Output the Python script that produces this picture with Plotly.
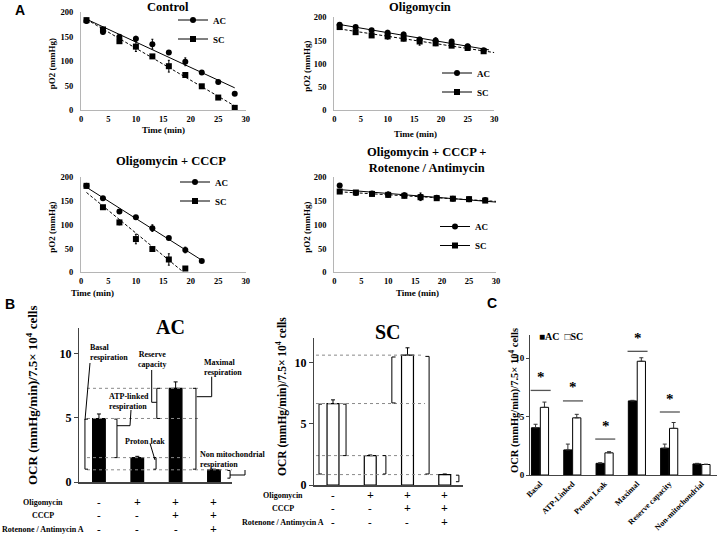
import numpy as np
import plotly.graph_objects as go

W, H = 718, 541
SERIF = "Liberation Serif, Times New Roman, serif"
SANS = "Liberation Sans, Arial, sans-serif"

# ---------------- Panel A data ----------------
time = [1, 4, 7, 10, 13, 16, 19, 22, 25, 28]
ctrl_ac = [182, 160, 150, 146, 135, 118, 99, 77, 58, 34]
ctrl_ac_err = [4, 4, 4, 5, 10, 3, 8, 3, 3, 3]
ctrl_sc = [184, 165, 141, 130, 110, 90, 72, 49, 26, 5]
ctrl_sc_err = [4, 4, 4, 10, 3, 12, 4, 3, 3, 3]

oligo_ac = [184, 179, 172, 167, 163, 152, 150, 148, 138, 129]
oligo_ac_err = [3, 3, 3, 5, 5, 5, 6, 3, 4, 4]
oligo_sc = [179, 168, 161, 159, 154, 148, 144, 139, 134, 127]
oligo_sc_err = [3, 3, 3, 6, 5, 8, 5, 3, 4, 3]

cccp_time_ac = [1, 4, 7, 10, 13, 16, 19, 22]
cccp_ac = [182, 156, 128, 116, 93, 72, 47, 24]
cccp_ac_err = [3, 3, 3, 3, 7, 3, 6, 3]
cccp_time_sc = [1, 4, 7, 10, 13, 16, 19]
cccp_sc = [182, 137, 105, 70, 49, 27, 8]
cccp_sc_err = [3, 3, 5, 10, 3, 12, 3]

rot_ac = [183, 167, 166, 164, 162, 159, 157, 155, 154, 152]
rot_ac_err = [2, 2, 3, 5, 5, 8, 3, 3, 3, 2]
rot_sc = [170, 168, 165, 163, 161, 158, 156, 155, 154, 151]
rot_sc_err = [2, 2, 3, 4, 4, 6, 3, 3, 3, 2]

a_xticks = [0, 5, 10, 15, 20, 25, 30]
a_yticks = [0, 50, 100, 150, 200]

# ---------------- Panel B data ----------------
b_rows = ["Oligomycin", "CCCP", "Rotenone / Antimycin A"]
b_signs = [["-", "+", "+", "+"],
           ["-", "-", "+", "+"],
           ["-", "-", "-", "+"]]
ac_ocr = [4.95, 1.9, 7.3, 0.95]
ac_ocr_err = [0.35, 0.1, 0.5, 0.05]
sc_ocr = [6.65, 2.4, 10.6, 0.85]
sc_ocr_err = [0.3, 0.05, 0.6, 0.05]

# ---------------- Panel C data ----------------
c_cats = ["Basal", "ATP-Linked", "Proton Leak", "Maximal", "Reserve capacity", "Non-mitochondrial"]
c_ac = [4.05, 2.15, 1.0, 6.35, 2.3, 0.95]
c_ac_err = [0.3, 0.5, 0.05, 0.05, 0.35, 0.05]
c_sc = [5.8, 4.9, 1.9, 9.75, 4.0, 0.9]
c_sc_err = [0.45, 0.3, 0.1, 0.3, 0.5, 0.03]
c_sig_y = [7.25, 6.35, 3.08, 10.6, 5.4]

OCR_LABEL = "OCR (mmHg/min)/7.5\u00d7 10<sup>4</sup> cells"


def px(p):
    return p / W


def py(p):
    return 1 - p / H


fig = go.Figure()
ann = []
shapes = []
layout = {}


def bold(size, family=SERIF, color="black"):
    return dict(family=family, size=size, color=color, weight="bold")


def note(text, x, y, size, family=SERIF, xanchor="center", yanchor="middle", **kw):
    d = dict(text=text, x=px(x), y=py(y), xref="paper", yref="paper", showarrow=False,
             xanchor=xanchor, yanchor=yanchor, font=bold(size, family))
    d.update(kw)
    ann.append(d)


# ---------------- Panel A ----------------
A_PANELS = [
    ("", "legend", 81, 245.7, 110.3, 12.3, "Control", (168, 7), 52, (163, 130), (173, 5.5),
     [(time, ctrl_ac, ctrl_ac_err, "circle", "solid", "AC", 1, 28),
      (time, ctrl_sc, ctrl_sc_err, "square", "3px,2px", "SC", 1, 28)]),
    ("2", "legend2", 334.3, 494.3, 110.3, 17.3, "Oligomycin", (420, 7), 307, (415, 134), (437, 58.5),
     [(time, oligo_ac, oligo_ac_err, "circle", "solid", "AC", 1, 29),
      (time, oligo_sc, oligo_sc_err, "square", "3px,2px", "SC", 1, 30)]),
    ("3", "legend3", 81, 245.7, 272.3, 177.3, "Oligomycin + CCCP", (171, 161), 52, (93, 293), (175, 167.5),
     [(cccp_time_ac, cccp_ac, cccp_ac_err, "circle", "solid", "AC", 1, 22),
      (cccp_time_sc, cccp_sc, cccp_sc_err, "square", "3px,2px", "SC", 1, None)]),
    ("4", "legend4", 334.3, 496, 272.3, 177.3, "Oligomycin + CCCP +<br>Rotenone / Antimycin", (426, 160), 307,
     (417, 293), (435, 212),
     [(time, rot_ac, rot_ac_err, "circle", "solid", "AC", 1, 30),
      (time, rot_sc, rot_sc_err, "square", "3px,2px", "SC", 1, 30)]),
]

for (sfx, leg, x0, x1, yb, yt, title, tpos, ylx, xlpos, lpos, series) in A_PANELS:
    xa, ya = "x" + sfx, "y" + sfx
    layout["xaxis" + sfx] = dict(
        domain=[px(x0), px(x1)], range=[0, 30], tickvals=a_xticks, anchor=ya,
        showline=True, linecolor="#b5b5b5", linewidth=1, showgrid=False, zeroline=False,
        ticks="", tickfont=bold(8.5))
    layout["yaxis" + sfx] = dict(
        domain=[py(yb), py(yt)], range=[0, 200], tickvals=a_yticks, anchor=xa,
        showline=True, linecolor="#b5b5b5", linewidth=1, showgrid=False, zeroline=False,
        ticks="outside", ticklen=5, tickcolor="rgba(0,0,0,0)", tickfont=bold(8.5))
    t = "<br>".join(f"<b>{s}</b>" for s in title.split("<br>"))
    note(t, tpos[0], tpos[1], 12.5, align="center")
    note("<b>pO2 (mmHg)</b>", ylx, (yb + yt) / 2 + 3, 9, textangle=-90)
    note("<b>Time (min)</b>", xlpos[0], xlpos[1], 9)
    layout[leg] = dict(x=px(lpos[0]), y=py(lpos[1]), xanchor="left", yanchor="top",
                       bgcolor="rgba(0,0,0,0)", font=bold(9), itemwidth=30, tracegroupgap=0)
    for (xs, ys, es, sym, dash, name, fx0, fx1) in series:
        c = np.polyfit(xs, ys, 1)
        if fx1 is None:
            fx1 = -c[1] / c[0]
        lx = [fx0, fx1]
        fig.add_trace(go.Scatter(x=lx, y=np.polyval(c, lx), mode="lines", xaxis=xa, yaxis=ya,
                                 line=dict(color="black", width=1, dash=dash), showlegend=False,
                                 hoverinfo="skip"))
        fig.add_trace(go.Scatter(x=xs, y=ys, mode="markers", xaxis=xa, yaxis=ya, name=name,
                                 marker=dict(symbol=sym, size=6, color="black"),
                                 error_y=dict(type="data", array=es, color="black", thickness=1, width=1),
                                 showlegend=False, cliponaxis=False))
        fig.add_trace(go.Scatter(x=[None], y=[None], mode="lines+markers", xaxis=xa, yaxis=ya,
                                 name=f"<b>{name}</b>", legend=leg,
                                 marker=dict(symbol=sym, size=6, color="black"),
                                 line=dict(color="black", width=1)))

note("<b>A</b>", 20, 10, 14, SANS)
note("<b>B</b>", 10, 304, 14, SANS)
note("<b>C</b>", 492, 303, 14, SANS)


# ---------------- Panel B ----------------
def make_map(x0p, x1p, xr, ybp, ytp, yr):
    def fx(v):
        return x0p + (v - xr[0]) / (xr[1] - xr[0]) * (x1p - x0p)

    def fy(v):
        return ybp - (v - yr[0]) / (yr[1] - yr[0]) * (ybp - ytp)
    return fx, fy


B_PANELS = [
    ("5", 79, 232, [-0.52, 3.47], 482, 328, ac_ocr, ac_ocr_err, "black", 0.33, "AC", (170, 327), 20,
     (32, 395), 13, 43, (502, 515, 529)),
    ("6", 314, 463, [-0.51, 3.49], 485, 338, sc_ocr, sc_ocr_err, "white", 0.32, "SC", (388, 332), 20,
     (281, 397), 11.5, 283, (495, 508, 522)),
]
bmaps = {}
for (sfx, x0, x1, xr, yb, yt, vals, errs, col, bw, title, tpos, tsize, ylpos, ylsize, rowx, rowys) in B_PANELS:
    xa, ya = "x" + sfx, "y" + sfx
    layout["xaxis" + sfx] = dict(domain=[px(x0), px(x1)], range=xr, anchor=ya, showticklabels=False,
                                 showline=True, linecolor="#444", linewidth=1.6, ticks="",
                                 showgrid=False, zeroline=False)
    layout["yaxis" + sfx] = dict(domain=[py(yb), py(yt)], range=[0, 12], tickvals=[0, 5, 10], anchor=xa,
                                 showline=True, linecolor="#444", linewidth=1.2, ticks="outside",
                                 ticklen=4, tickcolor="#444", tickfont=bold(12), showgrid=False,
                                 zeroline=False)
    fig.add_trace(go.Bar(x=list(range(len(vals))), y=vals, width=bw, xaxis=xa, yaxis=ya, showlegend=False,
                         marker=dict(color=col, line=dict(color="black", width=1.2)),
                         error_y=dict(type="data", symmetric=False, array=errs, arrayminus=[0] * len(errs),
                                      color="black", thickness=1, width=2)))
    fx, fy = make_map(x0, x1, xr, yb, yt, [0, 12])
    bmaps[sfx] = (fx, fy)
    note(f"<b>{title}</b>", tpos[0], tpos[1], tsize)
    note(f"<b>{OCR_LABEL}</b>", ylpos[0], ylpos[1], ylsize, textangle=-90)
    for r, lab in enumerate(b_rows):
        note(f"<b>{lab}</b>", rowx, rowys[r], 8)
        for i, s in enumerate(b_signs[r]):
            note(f"<b>{s}</b>", fx(i), rowys[r], 12 if s == "+" else 11)


def bracket(fx, fy, xv, arm, y1, y2):
    shapes.append(dict(type="path", xref="paper", yref="paper",
                       path=(f"M {px(fx(xv + arm))},{py(fy(y1))} L {px(fx(xv))},{py(fy(y1))} "
                             f"L {px(fx(xv))},{py(fy(y2))} L {px(fx(xv + arm))},{py(fy(y2))}"),
                       line=dict(color="black", width=1)))


def dashed(fy, yv, x0p, x1p):
    shapes.append(dict(type="line", xref="paper", yref="paper", x0=px(x0p), x1=px(x1p),
                       y0=py(fy(yv)), y1=py(fy(yv)), line=dict(color="#8a8a8a", width=1, dash="dot")))


def poly(points):
    d = "M " + " L ".join(f"{px(a)},{py(b)}" for a, b in points)
    shapes.append(dict(type="path", xref="paper", yref="paper", path=d, line=dict(color="black", width=1)))


# AC decorations
fx, fy = bmaps["5"]
dashed(fy, ac_ocr[2], 87, 198)
dashed(fy, ac_ocr[0], 87, 198)
dashed(fy, ac_ocr[1], 87, 190)
dashed(fy, ac_ocr[3], 87, 232)
bracket(fx, fy, -0.365, 0.08, ac_ocr[0] - 0.05, ac_ocr[3] + 0.05)
bracket(fx, fy, 0.47, -0.07, ac_ocr[0] - 0.05, ac_ocr[1])
bracket(fx, fy, 1.49, -0.07, ac_ocr[1], ac_ocr[3] + 0.05)
bracket(fx, fy, 1.51, 0.08, ac_ocr[2], ac_ocr[0])
bracket(fx, fy, 2.53, -0.08, ac_ocr[2], ac_ocr[3] + 0.05)
bracket(fx, fy, 3.42, -0.07, ac_ocr[3] - 0.05, 0.3)
poly([(90, 363), (85, 420)])
poly([(117, 425.7), (130, 425.7), (131, 410)])
poly([(151.7, 370), (151.7, 402.3), (156.7, 402.3)])
poly([(196.7, 396.7), (211.7, 396.7), (211.7, 376.7)])
poly([(150, 443.3), (155, 460)])
poly([(230, 475), (245, 475), (245, 470)])
for text, xp, yp, xanc, al in [
    ("Basal<br>respiration", 88, 352.5, "left", "left"),
    ("Reserve<br>capacity", 152, 359.5, "center", "center"),
    ("Maximal<br>respiration", 202, 367.5, "left", "left"),
    ("ATP-linked<br>respiration", 107, 401, "left", "left"),
    ("Proton leak", 145, 441, "center", "center"),
    ("Non mitochondrial<br>respiration", 198, 459, "left", "left"),
]:
    t = "<br>".join(f"<b>{s}</b>" for s in text.split("<br>"))
    note(t, xp, yp, 8, xanchor=xanc, align=al)

# SC decorations
fx, fy = bmaps["6"]
dashed(fy, sc_ocr[2], 316, 422)
dashed(fy, sc_ocr[0], 316, 425)
dashed(fy, sc_ocr[1], 316, 413)
dashed(fy, sc_ocr[3], 316, 438)
bracket(fx, fy, -0.376, 0.08, sc_ocr[0] - 0.05, sc_ocr[3] + 0.05)
bracket(fx, fy, 0.35, -0.08, sc_ocr[0] - 0.05, sc_ocr[1])
bracket(fx, fy, 1.42, -0.08, sc_ocr[1], sc_ocr[3] + 0.05)
bracket(fx, fy, 1.58, 0.1, sc_ocr[2] - 0.15, sc_ocr[0] + 0.05)
bracket(fx, fy, 2.58, -0.1, sc_ocr[2] - 0.1, sc_ocr[3] + 0.05)
bracket(fx, fy, 3.38, -0.08, sc_ocr[3] - 0.05, 0.27)

# ---------------- Panel C ----------------
layout["xaxis7"] = dict(domain=[px(530), px(717)], type="category", categoryarray=c_cats,
                        range=[-0.31, 5.48], anchor="y7", tickangle=-45, tickfont=bold(8),
                        showline=True, linecolor="#444", linewidth=1.2, ticks="", showgrid=False,
                        zeroline=False)
layout["yaxis7"] = dict(domain=[py(475), py(335)], range=[0, 12], tickvals=[0, 5, 10], anchor="x7",
                        showline=True, linecolor="#444", linewidth=1, ticks="outside", ticklen=3,
                        tickcolor="#444", tickfont=bold(9), showgrid=False, zeroline=False)
fig.add_trace(go.Bar(x=c_cats, y=c_ac, xaxis="x7", yaxis="y7", width=0.255, offset=-0.265, name="AC",
                     showlegend=False, marker=dict(color="black", line=dict(color="black", width=1)),
                     error_y=dict(type="data", symmetric=False, array=c_ac_err, arrayminus=[0] * 6,
                                  color="#333", thickness=1, width=2)))
fig.add_trace(go.Bar(x=c_cats, y=c_sc, xaxis="x7", yaxis="y7", width=0.255, offset=0.01, name="SC",
                     showlegend=False, marker=dict(color="white", line=dict(color="black", width=1)),
                     error_y=dict(type="data", symmetric=False, array=c_sc_err, arrayminus=[0] * 6,
                                  color="#333", thickness=1, width=2)))
for i, yv in enumerate(c_sig_y):
    shapes.append(dict(type="line", xref="x7", yref="y7", x0=i - 0.29, x1=i + 0.33, y0=yv, y1=yv,
                       line=dict(color="#555", width=1.3)))
    ann.append(dict(text="<b>*</b>", x=c_cats[i], xshift=1, y=yv + 0.3, xref="x7", yref="y7",
                    showarrow=False, yanchor="bottom", font=bold(15)))
note("<b>\u25a0AC  \u25a1SC</b>", 537, 336, 10, xanchor="left")
note(f"<b>{OCR_LABEL}</b>", 514, 401, 10.5, textangle=-90)

fig.update_layout(
    width=W, height=H, margin=dict(l=0, r=0, t=0, b=0, autoexpand=False),
    paper_bgcolor="white", plot_bgcolor="white",
    font=dict(family=SERIF, color="black"),
    annotations=ann, shapes=shapes, showlegend=True, **layout,
)

fig.write_html("out.html", config={"displayModeBar": False},
               post_script="document.body.style.margin='0px';")
